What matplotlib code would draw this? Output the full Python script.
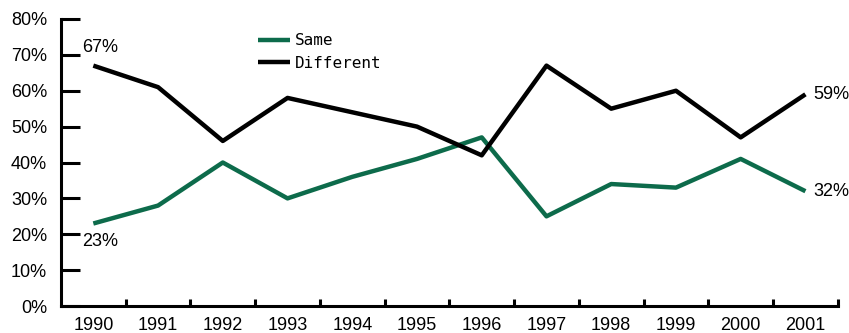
import numpy as np
import matplotlib
matplotlib.use('Agg')
import matplotlib.pyplot as plt

years = ['1990', '1991', '1992', '1993', '1994', '1995',
         '1996', '1997', '1998', '1999', '2000', '2001']
same      = [23, 28, 40, 30, 36, 41, 47, 25, 34, 33, 41, 32]
different = [67, 61, 46, 58, 54, 50, 42, 67, 55, 60, 47, 59]
yticks = [0, 10, 20, 30, 40, 50, 60, 70, 80]

green = '#0d6b4b'
fs = 13
plt.rcParams['font.family'] = ['Liberation Sans', 'DejaVu Sans']

fig = plt.figure(figsize=(8.49, 3.33), dpi=100)
ax = fig.add_axes([0.0718, 0.081, 0.915, 0.862])

x = np.arange(len(years))
ax.plot(x, same, color=green, lw=3.2, label='Same', solid_capstyle='butt')
ax.plot(x, different, color='black', lw=3.2, label='Different', solid_capstyle='butt')

ax.set_xlim(-0.5, len(years) - 0.5)
ax.set_ylim(0, 80)

for s in ['top', 'right']:
    ax.spines[s].set_visible(False)
for s in ['left', 'bottom']:
    ax.spines[s].set_linewidth(2.2)

ax.set_yticks(yticks)
ax.set_yticklabels([str(v) + '%' for v in yticks], fontsize=fs)
ax.tick_params(axis='y', direction='in', length=14, width=2.2, pad=10)

# category boundaries get the tick marks, labels sit between them
ax.set_xticks(np.arange(0.5, len(years), 1.0))
ax.set_xticklabels([])
ax.tick_params(axis='x', which='major', direction='in', length=5, width=2.2)
ax.set_xticks(x, minor=True)
ax.set_xticklabels(years, minor=True, fontsize=fs)
ax.tick_params(axis='x', which='minor', length=0, pad=8)

# end labels
ax.annotate(str(different[0]) + '%', (x[0], different[0]), xytext=(-8, 7),
            textcoords='offset points', fontsize=fs, va='bottom', ha='left')
ax.annotate(str(same[0]) + '%', (x[0], same[0]), xytext=(-8, -7),
            textcoords='offset points', fontsize=fs, va='top', ha='left')
ax.annotate(str(different[-1]) + '%', (x[-1], different[-1]), xytext=(6, 0),
            textcoords='offset points', fontsize=fs, va='center', ha='left')
ax.annotate(str(same[-1]) + '%', (x[-1], same[-1]), xytext=(6, 0),
            textcoords='offset points', fontsize=fs, va='center', ha='left')

leg = ax.legend(loc='upper left', bbox_to_anchor=(0.235, 1.0), frameon=False,
                prop={'family': 'DejaVu Sans Mono', 'size': 11.5},
                handlelength=2.0, handletextpad=0.3, labelspacing=0.45)

plt.savefig('out.png', dpi=100)
